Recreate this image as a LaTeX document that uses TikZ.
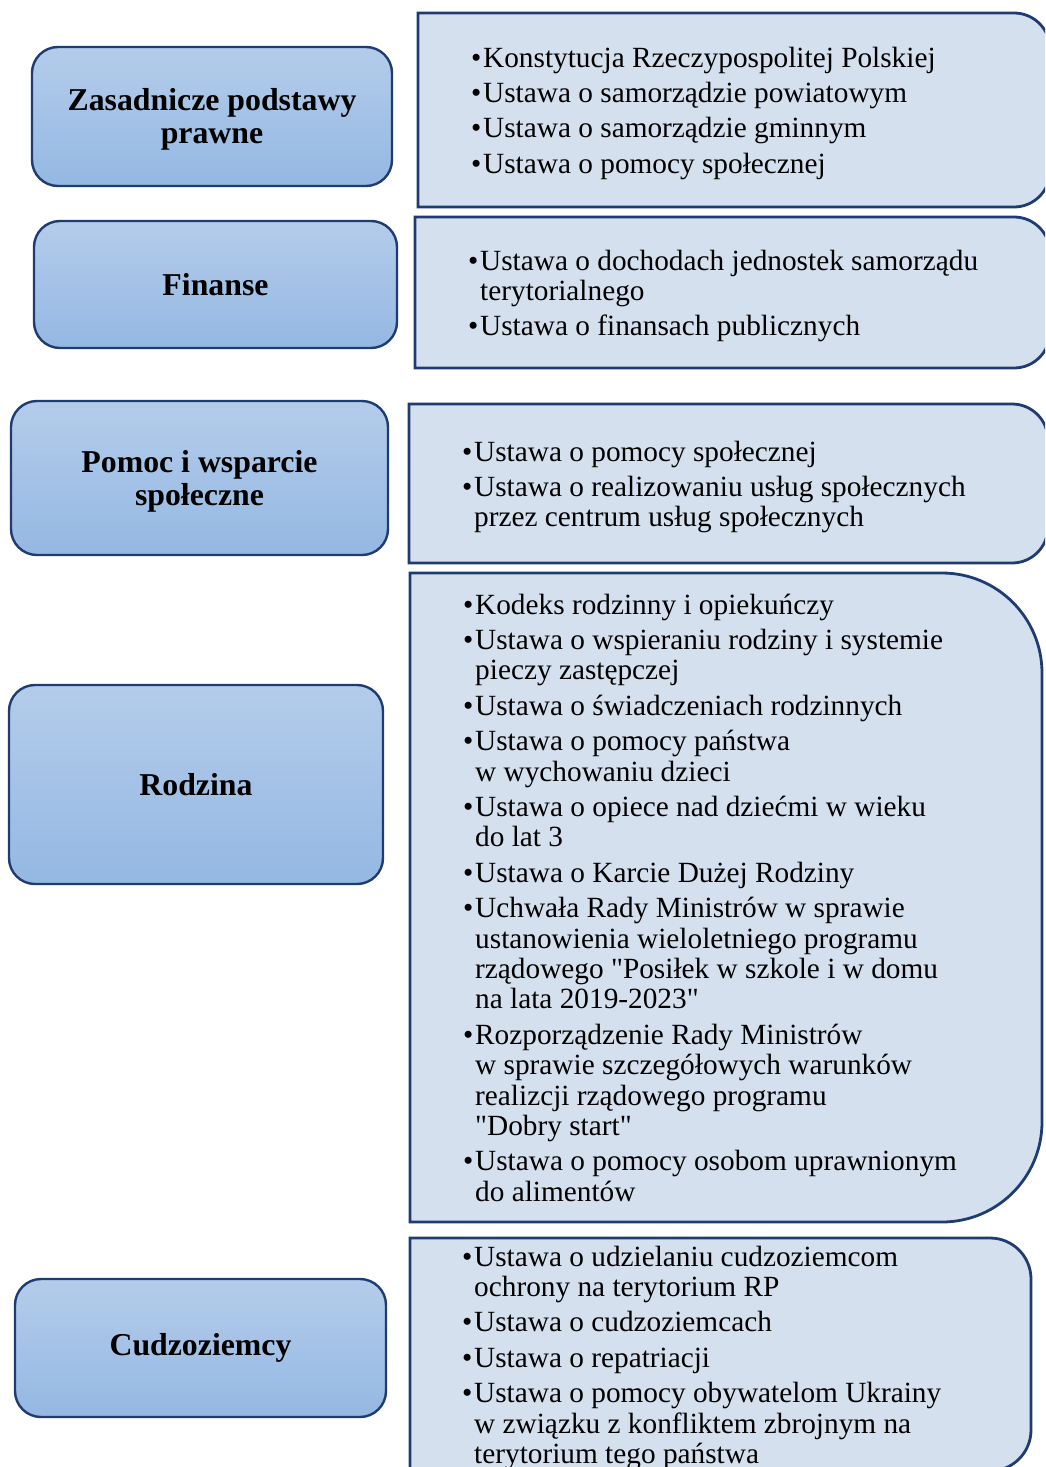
\documentclass[tikz,border=0pt]{standalone}
\usepackage{fontspec}
\setmainfont{Liberation Serif}[Ligatures=TeXOff]
\definecolor{navy}{HTML}{1F3C72}
\definecolor{lbtop}{HTML}{B4CCEA}
\definecolor{lbbot}{HTML}{94B8E3}
\definecolor{rfill}{HTML}{D5E0EF}
\newcommand\itm[1]{\hbox{\makebox[12pt][l]{•}#1}}
\newcommand\cnt[1]{\hbox{\hspace*{12pt}#1}}
\newcommand\gap{\vskip5pt}
\tikzset{
  lbox/.style={draw=navy, line width=2.4pt, rounded corners=26pt, top color=lbtop, bottom color=lbbot, inner sep=0pt},
  ltext/.style={align=center, inner sep=0pt, font=\bfseries\fontsize{31.8}{33}\selectfont},
  rbox/.style={draw=navy, line width=2.8pt, fill=rfill},
  rtext/.style={anchor=base west, inner sep=0pt, font=\fontsize{29.3}{30.4}\selectfont}
}
\begin{document}
\begin{tikzpicture}[x=1pt,y=-1pt]
\useasboundingbox (0,0) rectangle (1045,1467);
\clip (0,0) rectangle (1045,1467);
\fill[white] (0,0) rectangle (1045,1467);

% left boxes
\node[lbox, minimum width=360pt, minimum height=139pt] (l1) at (212,116.5) {};
\node[lbox, minimum width=363pt, minimum height=127pt] (l2) at (215.5,284.5) {};
\node[lbox, minimum width=377pt, minimum height=154pt] (l3) at (199.5,478) {};
\node[lbox, minimum width=374pt, minimum height=199pt] (l4) at (196,784.5) {};
\node[lbox, minimum width=371pt, minimum height=138pt] (l5) at (200.5,1348) {};
\node[ltext, yshift=-3pt] (t1) at (l1.center) {Zasadnicze podstawy\\prawne};
\node[ltext] (t2) at (l2.center) {Finanse};
\node[ltext, yshift=-3pt] (t3) at (l3.center) {Pomoc i wsparcie\\społeczne};
\node[ltext] (t4) at (l4.center) {Rodzina};
\node[ltext] (t5) at (l5.center) {Cudzoziemcy};

% right boxes
\draw[rbox] (418,13) -- (1014,13) arc(90:0:36pt) -- (1050,171) arc(0:-90:36pt) -- (418,207) -- cycle;
\draw[rbox] (415,217) -- (1014,217) arc(90:0:36pt) -- (1050,332) arc(0:-90:36pt) -- (415,368) -- cycle;
\draw[rbox] (409,404) -- (1012,404) arc(90:0:36pt) -- (1048,527) arc(0:-90:36pt) -- (409,563) -- cycle;
\draw[rbox] (410,573) -- (942,573) arc(90:0:100pt) -- (1042,1122) arc(0:-90:100pt) -- (410,1222) -- cycle;
\draw[rbox] (410,1238) -- (990,1238) arc(90:0:41pt) -- (1031,1430) arc(0:-90:41pt) -- (410,1471) -- cycle;

% right texts
\node[rtext] (r1) at (471,67) {\vtop{%
  \itm{Konstytucja Rzeczypospolitej Polskiej}\gap
  \itm{Ustawa o samorządzie powiatowym}\gap
  \itm{Ustawa o samorządzie gminnym}\gap
  \itm{Ustawa o pomocy społecznej}}};
\node[rtext] (r2) at (468,270) {\vtop{%
  \itm{Ustawa o dochodach jednostek samorządu}
  \cnt{terytorialnego}\gap
  \itm{Ustawa o finansach publicznych}}};
\node[rtext] (r3) at (462,461) {\vtop{%
  \itm{Ustawa o pomocy społecznej}\gap
  \itm{Ustawa o realizowaniu usług społecznych}
  \cnt{przez centrum usług społecznych}}};
\node[rtext] (r4) at (463,614) {\vtop{%
  \itm{Kodeks rodzinny i opiekuńczy}\gap
  \itm{Ustawa o wspieraniu rodziny i systemie}
  \cnt{pieczy zastępczej}\gap
  \itm{Ustawa o świadczeniach rodzinnych}\gap
  \itm{Ustawa o pomocy państwa}
  \cnt{w wychowaniu dzieci}\gap
  \itm{Ustawa o opiece nad dziećmi w wieku}
  \cnt{do lat 3}\gap
  \itm{Ustawa o Karcie Dużej Rodziny}\gap
  \itm{Uchwała Rady Ministrów w sprawie}
  \cnt{ustanowienia wieloletniego programu}
  \cnt{rządowego "Posiłek w szkole i w domu}
  \cnt{na lata 2019-2023"}\gap
  \itm{Rozporządzenie Rady Ministrów}
  \cnt{w sprawie szczegółowych warunków}
  \cnt{realizcji rządowego programu}
  \cnt{"Dobry start"}\gap
  \itm{Ustawa o pomocy osobom uprawnionym}
  \cnt{do alimentów}}};
\node[rtext] (r5) at (462,1266) {\vtop{%
  \itm{Ustawa o udzielaniu cudzoziemcom}
  \cnt{ochrony na terytorium RP}\gap
  \itm{Ustawa o cudzoziemcach}\gap
  \itm{Ustawa o repatriacji}\gap
  \itm{Ustawa o pomocy obywatelom Ukrainy}
  \cnt{w związku z konfliktem zbrojnym na}
  \cnt{terytorium tego państwa}}};
\end{tikzpicture}
\end{document}
